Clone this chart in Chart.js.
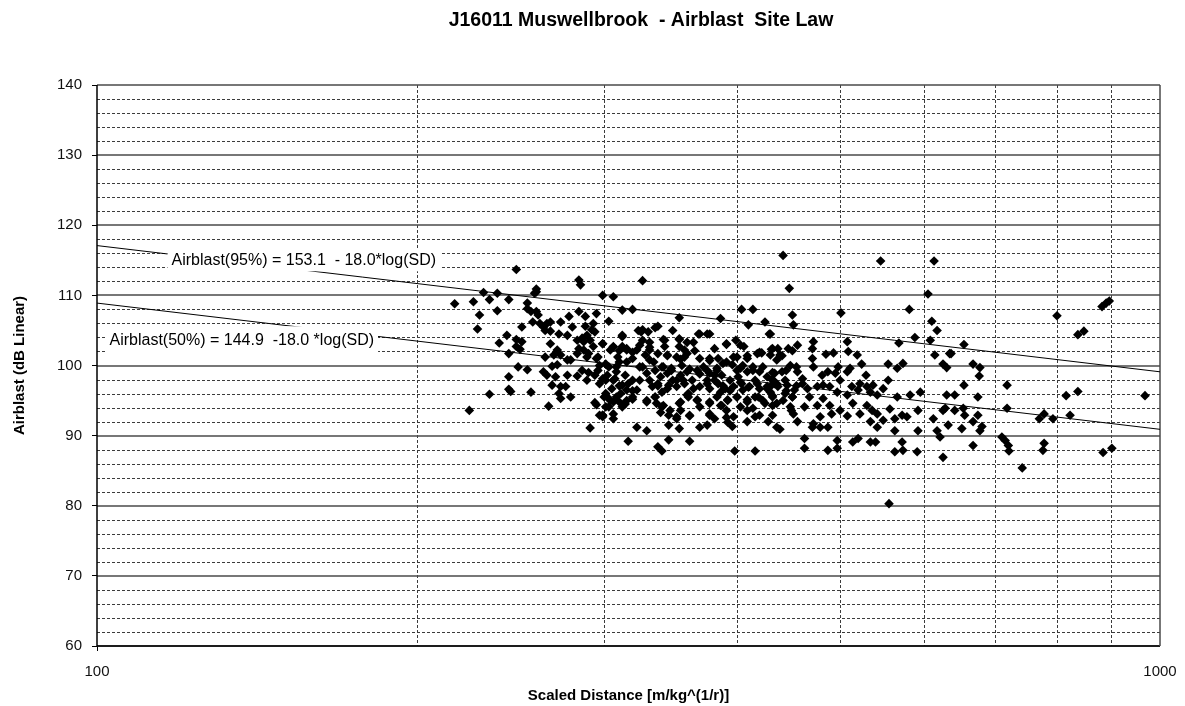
<!DOCTYPE html>
<html>
<head>
<meta charset="utf-8">
<script src="https://cdn.jsdelivr.net/npm/chart.js@4/dist/chart.umd.min.js"></script>
<style>
  body { margin: 0; background: #fff; }
  canvas { display: block; }
</style>
</head>
<body>
<canvas id="chartCanvas" width="1185" height="706"></canvas>
<script>
const measured = [
  [248,113.7],[284,112.2],[285,111.5],[231,110.4],[238,110.3],[234,109.4],[244,109.4],[259,110.9],[259,110.5],[258,110.3],
  [217,108.8],[226,109.1],[229,107.2],[238,107.8],[228,105.2],[254,108.9],[254,108.1],[256,107.7],[259,107.7],[260,107.2],
  [299,110.0],[284,107.7],[288,107.0],[295,107.4],[251,105.5],[257,106.2],[261,106.0],[265,106.0],[267,106.2],[273,106.2],
  [278,107.0],[264,105.0],[267,104.9],[272,104.5],[277,104.3],[280,105.5],[288,105.6],[293,106.0],[292,105.1],[294,104.8],
  [289,104.3],[243,104.3],[248,103.7],[251,103.4],[239,103.2],[248,102.7],[250,102.3],[244,101.7],[283,103.6],[286,103.9],
  [287,103.4],[284,102.4],[287,102.2],[290,101.7],[289,101.2],[295,101.0],[299,103.1],[267,103.1],[271,102.2],[264,101.2],
  [269,101.5],[273,101.5],[277,100.8],[268,99.9],[271,100.1],[249,99.8],[254,99.4],[263,99.1],[265,98.6],[270,98.4],
  [277,98.6],[283,98.5],[286,99.3],[290,99.0],[294,98.6],[296,99.3],[299,98.1],[289,97.9],[244,98.4],[244,96.6],
  [245,96.3],[234,95.9],[256,96.2],[268,97.2],[273,97.0],[276,97.0],[272,96.0],[273,95.3],[279,95.5],[266,94.2],
  [294,94.7],[295,94.4],[299,92.9],[299,92.7],[291,91.1],[224,93.6],
  [283,101.7],[293,102.7],[296,101.2],[297,97.4],[302,95.5],[301,94.1],[279,100.8],[263,105.5],[291,103.6],

  [326,112.1],[306,109.8],[312,107.9],[319,108.0],[303,106.3],[353,106.8],[386,106.7],[404,108.0],[414,108.0],[410,105.8],
  [425,106.2],[429,104.5],[323,105.0],[326,105.1],[335,105.4],[337,105.6],[348,105.0],[368,104.5],[377,104.5],[399,103.6],
  [312,104.1],[306,102.7],[312,102.7],[315,102.2],[326,103.6],[331,103.3],[341,103.7],[353,103.7],[364,103.3],
  [391,103.0],[406,102.7],[422,101.8],[431,102.3],[381,102.4],
  [357,102.2],[357,101.2],[354,100.9],[344,101.5],[331,102.2],[328,101.5],[309,101.2],[310,100.5],
  [297,100.0],[303,99.8],[308,99.1],[314,98.6],[319,97.9],[312,97.2],[305,96.7],[301,96.0],[308,95.5],[315,95.0],
  [303,94.1],[306,93.1],[297,92.9],
  [324,99.8],[329,98.9],[335,99.3],[339,98.4],[344,98.9],[348,97.9],[354,98.6],[359,99.1],[367,99.3],[372,99.8],
  [377,98.9],[383,99.6],[388,100.3],[396,100.1],[403,99.6],[409,99.1],[414,99.8],[420,99.1],[427,98.4],[432,97.9],
  [333,97.0],[340,96.2],[345,97.2],[351,97.0],[360,96.0],[369,97.0],[377,96.7],[384,97.4],[390,96.7],[397,97.0],
  [404,97.4],[411,97.0],[420,96.7],[430,96.2],[437,97.0],
  [310,94.8],[329,94.8],[335,95.5],[340,94.1],[353,94.6],[359,95.8],[367,95.1],[377,94.6],[387,94.3],[392,95.1],
  [400,95.5],[409,95.1],[419,95.5],[425,94.6],[432,94.3],
  [322,91.2],[329,90.7],[345,92.9],[351,92.7],[361,92.8],[377,92.9],[381,92.4],[392,91.9],[397,92.7],[409,92.0],
  [416,92.7],[428,92.0],[436,91.2],[345,91.5],[353,91.0],[369,91.2],[375,91.5],[396,91.3],
  [316,89.2],[337,88.4],[340,87.8],[345,89.4],[361,89.2],[398,87.8],[416,87.8],
  [302,98.6],[306,97.9],[315,96.5],[319,95.5],[304,95.0],[312,94.1],[322,96.5],[324,97.9],[337,97.4],[341,99.8],
  [347,99.6],[356,97.9],[363,97.9],[375,97.9],[381,98.6],[386,96.2],[394,97.9],[401,98.4],[405,96.5],[416,97.9],
  [427,97.0],[434,98.9],[432,95.5],[336,94.6],[354,93.6],[369,94.1],[383,95.5],[391,93.6],[403,94.1],[414,93.9],
  [337,101.7],[342,102.7],[353,102.7],[322,102.2],[319,101.0],[304,102.2],[331,100.8],[369,101.0],[377,101.0],[400,101.2],
  [409,101.0],[418,101.7],[436,100.8],
  [312,104.3],[325,104.8],[330,104.8],[369,104.5],[375,104.5],[342,103.6],[353,103.8],[359,103.3],[391,103.1],[430,104.5],
  [299,103.1],[306,102.6],[310,102.1],[315,102.4],[319,101.9],[324,102.9],[331,102.6],[344,101.4],[351,101.2],[359,101.7],
  [365,102.1],[403,102.9],[409,101.4],[420,101.9],[432,102.4],[441,101.4],[451,102.1],[377,100.7],[384,101.0],[391,100.5],
  [397,101.2],[301,100.2],[308,99.8],[315,100.5],[326,99.8],[334,100.5],[340,99.8],[347,99.3],[355,100.0],[361,99.5],
  [369,98.8],[375,99.3],[383,99.3],[387,98.6],[400,99.3],[405,100.0],[414,99.3],[423,99.8],[432,99.0],[445,99.3],
  [455,99.8],[301,97.9],[307,98.1],[310,97.1],[316,97.4],[319,96.4],[331,97.9],[337,97.1],[344,96.7],[351,97.9],
  [357,97.4],[364,96.7],[375,97.4],[381,97.9],[388,97.1],[394,96.4],[403,97.6],[410,96.9],[418,97.4],[427,96.7],
  [436,97.4],[445,96.4],[455,97.1],[300,95.5],[306,94.8],[311,96.0],[314,94.5],[319,95.2],[329,95.0],[335,95.5],
  [341,94.3],[346,93.6],[354,94.8],[360,95.5],[367,95.0],[377,94.8],[386,94.3],[392,95.0],[400,95.5],[409,94.8],
  [416,95.5],[423,95.0],[432,95.7],[442,95.0],[451,95.5],[299,92.9],[306,92.4],[339,93.3],[351,92.4],[361,92.9],
  [377,93.1],[391,92.6],[409,93.6],[420,92.9],[432,92.9],[450,93.6],

  [442,115.7],[546,114.9],[613,114.9],[448,111.0],[605,110.2],[451,107.2],[452,105.8],[501,107.5],[581,108.0],[610,106.3],
  [617,105.0],[508,103.4],[509,102.0],[519,101.5],[568,103.2],[588,104.0],[608,103.6],
  [437,102.4],[447,102.4],[456,102.9],[471,102.4],[472,103.4],[485,101.6],[493,101.8],[430,101.5],[439,101.5],[614,101.5],
  [634,101.7],[449,100.0],[456,99.1],[441,99.1],[471,101.0],[472,99.8],[481,98.6],[487,99.1],[495,98.9],[498,99.8],
  [508,99.1],[511,99.6],[500,97.9],[524,100.2],[529,98.6],[555,100.2],[573,100.3],[566,99.6],[555,97.9],[625,100.2],
  [430,97.0],[434,97.4],[446,97.2],[453,96.5],[461,97.4],[466,96.7],[476,97.0],[482,97.2],[489,97.0],[497,96.2],
  [508,95.8],[513,97.0],[520,96.5],[530,97.0],[537,97.2],[542,95.8],[549,96.7],[566,95.5],[582,95.8],[595,96.2],
  [630,95.8],[436,94.6],[451,95.5],[452,93.1],[463,94.1],[476,94.3],[489,94.3],[491,93.1],[500,93.6],[508,92.8],
  [522,93.1],[530,94.3],[536,93.6],[542,93.1],[557,93.8],[563,92.4],[572,92.9],[578,92.7],[592,93.6],[612,92.4],
  [625,93.6],[439,90.9],[463,89.6],[472,91.7],[479,91.2],[487,91.2],[497,89.3],[514,89.1],[520,89.6],[534,89.1],
  [542,91.2],[540,89.1],[563,90.7],[572,89.1],[592,90.7],[617,90.7],[621,89.8],
  [463,88.2],[487,87.9],[497,88.2],[563,87.7],[573,87.9],[591,87.7],[625,86.9],[556,80.3],
  [432,98.0],[444,97.9],[461,98.1],[468,95.5],[482,95.3],[449,94.1],[444,96.0],[522,97.4],[534,96.2],[514,94.6],
  [479,92.7],[471,91.2],[456,92.0],[534,92.0],[549,92.2],

  [654,103.0],[636,101.7],[630,99.7],[667,100.2],[677,99.7],[676,98.5],[654,97.2],[718,97.2],[641,95.8],[674,95.5],
  [628,93.9],[641,93.6],[653,93.9],[655,92.9],[674,92.9],[667,92.0],[680,91.3],[677,90.7],[632,91.5],[651,91.0],
  [718,93.9],[710,89.8],[715,89.3],[720,88.6],[721,87.8],[667,88.6],[742,85.4],[770,92.4],[778,93.1],[793,92.4],
  [778,88.9],[776,87.9],[800,107.1],[837,104.4],[848,104.9],[882,108.4],[890,108.9],[896,109.2],[816,95.7],[837,96.3],
  [823,92.9],[884,87.6],[901,88.2],[968,95.7]
];

// Site law lines (end points at SD = 100 and 1000)
const fitSD = [100, 1000];
const fit95 = [117.1, 99.1];
const fit50 = [108.9, 90.9];

const xTicks = [100, 200, 300, 400, 500, 600, 700, 800, 900, 1000];
const yMajor = [60, 70, 80, 90, 100, 110, 120, 130, 140];
const yMinorStep = 2;

const chartTitle = 'J16011 Muswellbrook  - Airblast  Site Law';
const label95 = 'Airblast(95%) = 153.1  - 18.0*log(SD)';
const label50 = 'Airblast(50%) = 144.9  -18.0 *log(SD)';

const FONT = "'Liberation Sans', Arial, sans-serif";

// Excel style grid: solid every 10 dB, dashed every 2 dB, dashed log verticals
const gridPlugin = {
    id: 'siteGrid',
    beforeDatasetsDraw(chart) {
        const { ctx, chartArea: a, scales: { x, y } } = chart;
        ctx.save();
        ctx.lineWidth = 1;
        ctx.strokeStyle = '#3c3c3c';
        ctx.setLineDash([3, 2]);
        for (let v = y.min; v <= y.max; v += yMinorStep) {
            if (v % 10 === 0) continue;
            const py = Math.round(y.getPixelForValue(v)) + 0.5;
            ctx.beginPath(); ctx.moveTo(a.left, py); ctx.lineTo(a.right, py); ctx.stroke();
        }
        xTicks.slice(1, -1).forEach(v => {
            const px = Math.round(x.getPixelForValue(v)) + 0.5;
            ctx.beginPath(); ctx.moveTo(px, a.top); ctx.lineTo(px, a.bottom); ctx.stroke();
        });
        ctx.setLineDash([]);
        ctx.lineWidth = 1.5;
        ctx.strokeStyle = '#4a4a4a';
        yMajor.forEach(v => {
            const py = Math.round(y.getPixelForValue(v));
            ctx.beginPath(); ctx.moveTo(a.left, py); ctx.lineTo(a.right, py); ctx.stroke();
        });
        // axes and right frame
        ctx.strokeStyle = '#000';
        ctx.beginPath();
        ctx.moveTo(a.left, a.top); ctx.lineTo(a.left, a.bottom); ctx.lineTo(a.right, a.bottom);
        ctx.stroke();
        ctx.strokeStyle = '#4a4a4a';
        ctx.beginPath(); ctx.moveTo(a.right, a.top); ctx.lineTo(a.right, a.bottom); ctx.stroke();
        ctx.restore();
    }
};

// Equation labels on white boxes over the lines, plus the chart title
const labelPlugin = {
    id: 'lawLabels',
    afterDatasetsDraw(chart) {
        const { ctx, scales: { x, y } } = chart;
        const items = [
            { text: label95, sd: 117, db: 115, up: 11, down: 11 },
            { text: label50, sd: 102.3, db: 103.6, up: 14, down: 13 }
        ];
        ctx.save();
        ctx.font = '16px ' + FONT;
        ctx.textBaseline = 'middle';
        items.forEach(it => {
            const px = x.getPixelForValue(it.sd);
            const py = y.getPixelForValue(it.db);
            const w = ctx.measureText(it.text).width;
            ctx.fillStyle = '#fff';
            ctx.fillRect(px - 2, py - it.up, w + 8, it.up + it.down);
            ctx.fillStyle = '#000';
            ctx.fillText(it.text, px + 2, py);
        });
        ctx.font = 'bold 19.5px ' + FONT;
        ctx.textAlign = 'center';
        ctx.fillText(chartTitle, 641, 21);
        ctx.restore();
    }
};

const lineData = vals => fitSD.map((sd, i) => ({ x: sd, y: vals[i] }));

new Chart(document.getElementById('chartCanvas'), {
    type: 'scatter',
    data: {
        datasets: [
            {
                label: 'Airblast',
                data: measured.map(p => ({ x: p[0], y: p[1] })),
                pointStyle: 'rectRot',
                pointRadius: 4.8,
                backgroundColor: '#000',
                borderColor: '#000',
                borderWidth: 0
            },
            {
                label: '95%',
                type: 'line',
                data: lineData(fit95),
                borderColor: '#000',
                borderWidth: 1,
                pointRadius: 0
            },
            {
                label: '50%',
                type: 'line',
                data: lineData(fit50),
                borderColor: '#000',
                borderWidth: 1,
                pointRadius: 0
            }
        ]
    },
    options: {
        responsive: false,
        animation: false,
        layout: { padding: { left: 0, right: 25, top: 85, bottom: 0 } },
        plugins: {
            legend: { display: false },
            tooltip: { enabled: false },
            title: { display: false }
        },
        scales: {
            x: {
                type: 'logarithmic',
                min: 100,
                max: 1000,
                afterBuildTicks: s => { s.ticks = xTicks.map(v => ({ value: v })); },
                afterFit: s => { s.height = 60; s.paddingLeft = 0; s.paddingRight = 0; },
                ticks: {
                    autoSkip: false,
                    maxRotation: 0,
                    padding: 12,
                    color: '#111',
                    font: { family: FONT, size: 15 },
                    callback: v => (v === 100 || v === 1000) ? String(v) : ''
                },
                grid: {
                    drawOnChartArea: false,
                    tickLength: 5,
                    tickColor: c => (c.tick && c.tick.value === 100) ? '#000' : 'rgba(0,0,0,0)'
                },
                border: { display: false },
                title: {
                    display: true,
                    text: 'Scaled Distance [m/kg^(1/r)]',
                    color: '#000',
                    font: { family: FONT, size: 15, weight: 'bold' },
                    padding: { top: 0, bottom: 1.5 }
                }
            },
            y: {
                min: 60,
                max: 140,
                afterBuildTicks: s => { s.ticks = yMajor.map(v => ({ value: v })); },
                afterFit: s => { s.width = 97; s.paddingTop = 0; s.paddingBottom = 0; },
                ticks: {
                    padding: 10,
                    color: '#111',
                    font: { family: FONT, size: 15 },
                    callback: v => String(v)
                },
                grid: {
                    drawOnChartArea: false,
                    tickLength: 5,
                    tickColor: '#000'
                },
                border: { display: false },
                title: {
                    display: true,
                    text: 'Airblast (dB Linear)',
                    color: '#000',
                    font: { family: FONT, size: 15, weight: 'bold' },
                    padding: { top: 11, bottom: 0 }
                }
            }
        }
    },
    plugins: [gridPlugin, labelPlugin]
});
</script>
</body>
</html>
